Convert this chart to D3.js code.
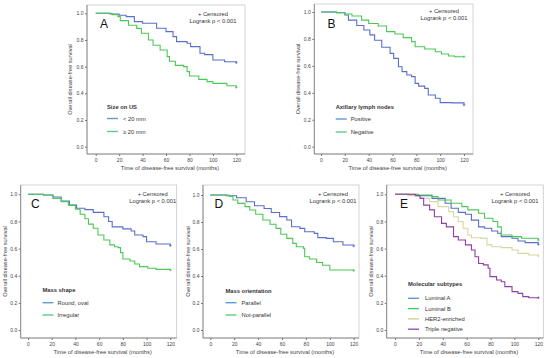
<!DOCTYPE html>
<html><head><meta charset="utf-8">
<script src="https://cdn.jsdelivr.net/npm/d3@7"></script>
<style>body{margin:0;background:#fff}svg{display:block}text{font-family:"Liberation Sans",Arial,sans-serif}</style>
</head><body>
<svg id="c" width="550" height="358"></svg>
<script>
const timeTicks = [0, 20, 40, 60, 80, 100, 120];
const survTicks = [0.0, 0.2, 0.4, 0.6, 0.8, 1.0];
const xTitle = "Time of disease-free survival (months)";
const yTitle = "Overall disease-free survival";

// Panel A: size on US
const sizeLabels = ["< 20 mm", "\u2265 20 mm"];
const sizeUnder20 = [[0,1],[12,0.995],[20,0.985],[26,0.975],[33,0.9375],[40,0.925],[52,0.8875],[60,0.8625],[66,0.825],[69,0.7875],[78,0.775],[81,0.75],[89,0.70],[93,0.69],[100,0.65],[110,0.637],[120,0.63]];
const sizeOver20 = [[0,1],[14,0.99],[19,0.975],[21,0.945],[28,0.91],[35,0.887],[39,0.85],[45,0.8],[49,0.76],[55,0.725],[61,0.675],[63,0.64],[68,0.61],[75,0.6],[78,0.5625],[80,0.53],[88,0.505],[95,0.4875],[100,0.475],[112,0.457],[120,0.445]];

// Panel B: axillary lymph nodes
const nodeLabels = ["Positive", "Negative"];
const nodePositive = [[0,1],[13,0.995],[20,0.978],[23,0.94],[30,0.90],[36,0.866],[41,0.83],[45,0.79],[51,0.738],[58,0.693],[61,0.656],[65,0.594],[68,0.557],[72,0.532],[76,0.52],[79,0.47],[82,0.45],[87,0.433],[90,0.384],[96,0.36],[100,0.327],[110,0.325],[120,0.31]];
const nodeNegative = [[0,1],[13,0.995],[20,0.985],[26,0.97],[34,0.94],[40,0.915],[48,0.896],[55,0.854],[62,0.837],[69,0.81],[76,0.78],[79,0.742],[87,0.725],[96,0.705],[101,0.688],[107,0.673],[112,0.668],[120,0.668]];

// Panel C: mass shape
const shapeLabels = ["Round, oval", "Irregular"];
const shapeRound = [[0,1],[13,0.995],[21,0.98],[28,0.95],[35,0.92],[41,0.897],[48,0.887],[55,0.867],[64,0.835],[68,0.80],[71,0.76],[80,0.745],[87,0.73],[90,0.70],[97,0.688],[100,0.65],[108,0.634],[120,0.622]];
const shapeIrregular = [[0,1],[13,0.995],[21,0.97],[28,0.946],[34,0.92],[40,0.89],[44,0.853],[48,0.82],[51,0.78],[55,0.75],[59,0.70],[64,0.663],[69,0.627],[73,0.614],[76,0.607],[78,0.57],[80,0.523],[86,0.508],[90,0.486],[94,0.467],[101,0.455],[108,0.447],[120,0.442]];

// Panel D: mass orientation
const orientLabels = ["Parallel", "Not-parallel"];
const orientParallel = [[0,1],[13,0.995],[22,0.98],[30,0.95],[37,0.92],[45,0.90],[51,0.87],[58,0.84],[64,0.815],[68,0.765],[75,0.753],[79,0.728],[87,0.716],[90,0.684],[97,0.679],[103,0.654],[111,0.63],[120,0.622]];
const orientNotParallel = [[0,1],[16,0.99],[19,0.963],[23,0.938],[29,0.914],[33,0.889],[38,0.857],[44,0.815],[50,0.783],[55,0.753],[59,0.709],[64,0.679],[69,0.642],[72,0.617],[78,0.605],[79,0.543],[83,0.526],[89,0.50],[94,0.48],[100,0.444],[120,0.44]];

// Panel E: molecular subtypes
const subtypeLabels = ["Luminal A", "Luminal B", "HER2-enriched", "Triple negative"];
const luminalA = [[0,1],[11,0.995],[19.5,0.99],[31,0.97],[42,0.934],[47,0.897],[53,0.867],[59,0.853],[64,0.81],[70,0.76],[75,0.75],[81,0.73],[86,0.713],[89,0.688],[98,0.676],[103,0.656],[109,0.644],[120,0.631]];
const luminalB = [[0,1],[19.5,0.995],[31,0.983],[36,0.958],[47,0.934],[56,0.909],[61,0.885],[70,0.86],[75,0.823],[82,0.80],[86,0.76],[89,0.70],[98,0.688],[106,0.676],[120,0.663]];
const her2 = [[0,1],[11,0.99],[21,0.97],[29,0.946],[36,0.909],[45,0.872],[49,0.835],[53,0.80],[57,0.75],[61,0.70],[64,0.68],[72,0.675],[77,0.627],[81,0.614],[89,0.607],[98,0.59],[103,0.565],[112,0.553],[120,0.545]];
const tripleNeg = [[0,1],[17,0.99],[21,0.97],[24,0.92],[29,0.885],[33,0.835],[39,0.786],[43,0.76],[49,0.688],[53,0.663],[59,0.627],[64,0.59],[67,0.54],[70,0.49],[74,0.48],[78,0.455],[79.5,0.393],[85,0.369],[89,0.356],[92,0.32],[98,0.283],[103,0.27],[107,0.246],[112,0.238],[120,0.238]];

const BLUE = "#5a6fcc", GREEN = "#4cc856", BEIGE = "#d8d6a4", PURPLE = "#8f3fa8";
const LBLUE = "#5e9ad8", LGREEN = "#5fcb8a";

const svg = d3.select("#c");

function panel(o) {
  const g = svg.append("g");
  const x = d3.scaleLinear().domain([0, 120]).range([o.x0, o.x120]);
  const y = d3.scaleLinear().domain([0, 1]).range([o.y0, o.y1]);
  g.append("rect").attr("x", o.L).attr("y", o.T).attr("width", o.R - o.L).attr("height", o.B - o.T)
    .attr("fill", "none").attr("stroke", "#c8c8c8").attr("stroke-width", 0.8);
  const xa = g.append("g").attr("transform", `translate(0,${o.B})`)
    .call(d3.axisBottom(x).tickValues(timeTicks).tickSize(2).tickPadding(2).tickSizeOuter(0));
  xa.select(".domain").attr("d", `M${o.L},0H${o.R}`);
  const ya = g.append("g").attr("transform", `translate(${o.L},0)`)
    .call(d3.axisLeft(y).tickValues(survTicks).tickFormat(d3.format(".1f")).tickSize(2).tickPadding(1.5).tickSizeOuter(0));
  ya.select(".domain").attr("d", `M0,${o.T}V${o.B}`);
  [xa, ya].forEach(a => {
    a.selectAll(".domain").attr("stroke", "#777").attr("stroke-width", 0.8);
    a.selectAll(".tick line").attr("stroke", "#777");
    a.selectAll("text").attr("font-size", 5).attr("fill", "#444").attr("font-family", "Liberation Sans, Arial");
  });
  g.append("text").attr("x", (o.L + o.R) / 2 + 4).attr("y", o.B + 15.5).attr("text-anchor", "middle")
    .attr("font-size", 5.8).attr("fill", "#444").text(xTitle);
  g.append("text").attr("transform", `translate(${o.ylx},${(o.T + o.B) / 2}) rotate(-90)`)
    .attr("text-anchor", "middle").attr("font-size", 5.6).attr("fill", "#444").text(yTitle);
  g.append("text").attr("x", o.lx).attr("y", o.ly).attr("font-size", 12).attr("fill", "#111").text(o.letter);
  g.append("text").attr("x", o.cx).attr("y", o.cy).attr("text-anchor", "middle").attr("font-size", 5.8).attr("fill", "#333").text("+ Censored");
  g.append("text").attr("x", o.cx).attr("y", o.cy + 7).attr("text-anchor", "middle").attr("font-size", 5.8).attr("fill", "#333").text("Logrank p < 0.001");
  const line = d3.line().x(d => x(d[0])).y(d => y(d[1])).curve(d3.curveStepAfter);
  o.series.forEach((s, i) => {
    g.append("path").datum(s).attr("d", line).attr("fill", "none").attr("stroke", o.colors[i]).attr("stroke-width", 1.1);
    const last = s[s.length - 1];
    const cx = x(last[0]), cy = y(last[1]);
    g.append("path").attr("d", `M${cx - 1.3},${cy}H${cx + 1.3}M${cx},${cy - 1.3}V${cy + 1.3}`)
      .attr("stroke", o.colors[i]).attr("stroke-width", 0.8);
  });
  g.append("text").attr("x", o.legx).attr("y", o.legy).attr("font-size", 5.8).attr("font-weight", "bold").attr("fill", "#333").text(o.legTitle);
  o.labels.forEach((lab, i) => {
    const yy = o.legy + o.leg0 + i * o.legStep;
    g.append("line").attr("x1", o.legx).attr("x2", o.legx + 11).attr("y1", yy).attr("y2", yy)
      .attr("stroke", o.legColors[i]).attr("stroke-width", 1.4);
    g.append("text").attr("x", o.legx + o.legTx).attr("y", yy + 2).attr("font-size", 5.8).attr("fill", "#333").text(lab);
  });
}

panel({L:87,T:5,R:245,B:154,x0:95.7,x120:236.3,y0:146.7,y1:13.3,ylx:72,letter:"A",lx:100,ly:28,cx:213,cy:16,
  series:[sizeUnder20,sizeOver20],colors:[BLUE,GREEN],legColors:[LBLUE,LGREEN],labels:sizeLabels,legTitle:"Size on US",
  legx:107,legy:109,leg0:9.5,legStep:13,legTx:16});
panel({L:314.3,T:4,R:473,B:154,x0:321,x120:464,y0:146.7,y1:12,ylx:299.5,letter:"B",lx:327.5,ly:28,cx:444,cy:13,
  series:[nodePositive,nodeNegative],colors:[BLUE,GREEN],legColors:[LBLUE,LGREEN],labels:nodeLabels,legTitle:"Axillary lymph nodes",
  legx:335.7,legy:109,leg0:10,legStep:13,legTx:15});
panel({L:20.7,T:185,R:176.7,B:338,x0:28,x120:170.3,y0:330,y1:194.3,ylx:7,letter:"C",lx:31,ly:208,cx:152.7,cy:196.3,
  series:[shapeRound,shapeIrregular],colors:[BLUE,GREEN],legColors:[LBLUE,LGREEN],labels:shapeLabels,legTitle:"Mass shape",
  legx:42.5,legy:292,leg0:10.7,legStep:12.3,legTx:15});
panel({L:203,T:185,R:359,B:338,x0:210.3,x120:353.7,y0:330,y1:195,ylx:190,letter:"D",lx:214.5,ly:208,cx:333,cy:196.3,
  series:[orientParallel,orientNotParallel],colors:[BLUE,GREEN],legColors:[LBLUE,LGREEN],labels:orientLabels,legTitle:"Mass orientation",
  legx:225.5,legy:292.5,leg0:10.2,legStep:12.3,legTx:16});
panel({L:386.7,T:185,R:543.3,B:338,x0:395,x120:538.3,y0:330,y1:194.3,ylx:372.5,letter:"E",lx:400,ly:208,cx:515,cy:196.3,
  series:[luminalA,luminalB,her2,tripleNeg],colors:[BLUE,GREEN,BEIGE,PURPLE],legColors:[LBLUE,"#3fcc6a","#d4d09c","#9a4fc8"],
  labels:subtypeLabels,legTitle:"Molecular subtypes",legx:408,legy:286.3,leg0:12,legStep:10.3,legTx:17});
</script>
</body></html>
